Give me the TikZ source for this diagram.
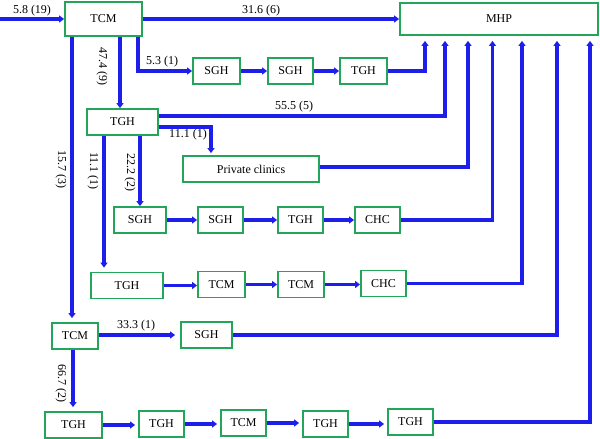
\documentclass[tikz,border=0pt]{standalone}
\usepackage{fontspec}
\setmainfont{Liberation Serif}
\usetikzlibrary{arrows.meta}
\definecolor{lblue}{RGB}{30,30,235}
\definecolor{bgreen}{RGB}{35,165,90}
\begin{document}
\begin{tikzpicture}[x=1pt,y=-1pt,
  box/.style={draw=bgreen,line width=1.8pt,fill=white,inner sep=0pt,font=\fontsize{12}{14}\selectfont,minimum height=26pt},
  flow/.style={draw=lblue,line width=3.3pt,-{Triangle[length=5pt,width=7pt]}},
  lbl/.style={font=\fontsize{12}{14}\selectfont,inner sep=0pt},
  vlbl/.style={lbl,rotate=-90}]
\useasboundingbox (0,0) rectangle (600,439);
% nodes
\node[box,minimum width=77pt,minimum height=34pt] (tcm0) at (103.5,19) {TCM};
\node[box,minimum width=198pt,minimum height=32pt] (mhp) at (499,19) {MHP};
\node[box,minimum width=47pt] (sgha) at (216.5,71) {SGH};
\node[box,minimum width=45pt] (sghb) at (290.5,71) {SGH};
\node[box,minimum width=47pt] (tgha) at (363.5,71) {TGH};
\node[box,minimum width=71pt] (tghb) at (122.5,122) {TGH};
\node[box,minimum width=136pt] (priv) at (251,169) {Private clinics};
\node[box,minimum width=52pt] (sghc) at (140,220) {SGH};
\node[box,minimum width=45pt] (sghd) at (220.5,220) {SGH};
\node[box,minimum width=45pt] (tghc) at (300.5,220) {TGH};
\node[box,minimum width=45pt] (chcc) at (377.5,220) {CHC};
\node[box,minimum width=72pt] (tghd) at (127,285.5) {TGH};
\node[box,minimum width=47pt] (tcmd) at (221.5,284.5) {TCM};
\node[box,minimum width=46pt] (tcme) at (301,284.5) {TCM};
\node[box,minimum width=45pt] (chcd) at (383.5,283.5) {CHC};
\node[box,minimum width=46pt] (tcmf) at (75,336) {TCM};
\node[box,minimum width=51pt] (sghf) at (206.5,335) {SGH};
\node[box,minimum width=57pt] (tghg) at (73.5,425) {TGH};
\node[box,minimum width=45pt] (tghh) at (161.5,424) {TGH};
\node[box,minimum width=45pt] (tcmh) at (243.5,423) {TCM};
\node[box,minimum width=45pt] (tghi) at (325.5,424) {TGH};
\node[box,minimum width=45pt] (tghj) at (410.5,422) {TGH};
\coordinate (start) at (0,19);
% connectors
\draw[flow] (start) -- (tcm0.west);
\draw[flow] (tcm0.east) -- (mhp.west);
\draw[flow] ([xshift=34.5pt]tcm0.south) |- (sgha.west);
\draw[flow] (sgha.east) -- (sghb.west);
\draw[flow] (sghb.east) -- (tgha.west);
\draw[flow] (tgha.east) -| ([xshift=-74pt,yshift=-5pt]mhp.south);
\draw[flow] ([xshift=-2.5pt]tghb.north |- tcm0.south) -- ([xshift=-2.5pt]tghb.north);
\draw[flow] ([xshift=-3pt]tcmf.north |- tcm0.south) -- ([xshift=-3pt,yshift=4pt]tcmf.north);
\draw[flow] ([yshift=6pt]tghb.east) -| ([xshift=-54pt,yshift=-5pt]mhp.south);
\draw[flow] ([yshift=-5pt]tghb.east) -| ([xshift=-40pt,yshift=2pt]priv.north);
\draw[flow] ([yshift=2pt]priv.east) -| ([xshift=-31pt,yshift=-5pt]mhp.south);
\draw[flow] (sghc.north |- tghb.south) -- (sghc.north);
\draw[flow] ([xshift=-23pt]tghd.north |- tghb.south) -- ([xshift=-23pt,yshift=4pt]tghd.north);
\draw[flow] (sghc.east) -- (sghd.west);
\draw[flow] (sghd.east) -- (tghc.west);
\draw[flow] (tghc.east) -- (tghc.east -| chcc.west);
\draw[flow] (chcc.east) -| ([xshift=-6.5pt,yshift=-5pt]mhp.south);
\draw[flow] (tghd.east) -- (tghd.east -| tcmd.west);
\draw[flow] (tcmd.east) -- (tcme.west);
\draw[flow] (tcme.east) -- (tcme.east -| chcd.west);
\draw[flow] (chcd.east) -| ([xshift=23pt,yshift=-5pt]mhp.south);
\draw[flow] ([yshift=1pt]tcmf.east) -- ([yshift=1pt,xshift=-5pt]tcmf.east -| sghf.west);
\draw[flow] (sghf.east) -| ([xshift=58pt,yshift=-5pt]mhp.south);
\draw[flow] ([xshift=-2pt]tcmf.south) -- ([xshift=-2pt,yshift=4pt]tcmf.south |- tghg.north);
\draw[flow] (tghg.east) -- ([xshift=-3pt]tghg.east -| tghh.west);
\draw[flow] (tghh.east) -- ([xshift=-3pt]tghh.east -| tcmh.west);
\draw[flow] (tcmh.east) -- ([xshift=-3pt]tcmh.east -| tghi.west);
\draw[flow] (tghi.east) -- ([xshift=-3pt]tghi.east -| tghj.west);
\draw[flow] (tghj.east) -| ([xshift=91pt,yshift=-5pt]mhp.south);
% labels
\node[lbl] (l1) at (32,11) {5.8 (19)};
\node[lbl] (l2) at (261,11) {31.6 (6)};
\node[vlbl] (l3) at (102,66) {47.4 (9)};
\node[lbl] (l4) at (162,62) {5.3 (1)};
\node[lbl] (l5) at (294,107) {55.5 (5)};
\node[lbl] (l6) at (188,135) {11.1 (1)};
\node[vlbl] (l7) at (61,169) {15.7 (3)};
\node[vlbl] (l8) at (93,171) {11.1 (1)};
\node[vlbl] (l9) at (130,172) {22.2 (2)};
\node[lbl] (l10) at (136,326) {33.3 (1)};
\node[vlbl] (l11) at (61,383) {66.7 (2)};
\end{tikzpicture}
\end{document}
